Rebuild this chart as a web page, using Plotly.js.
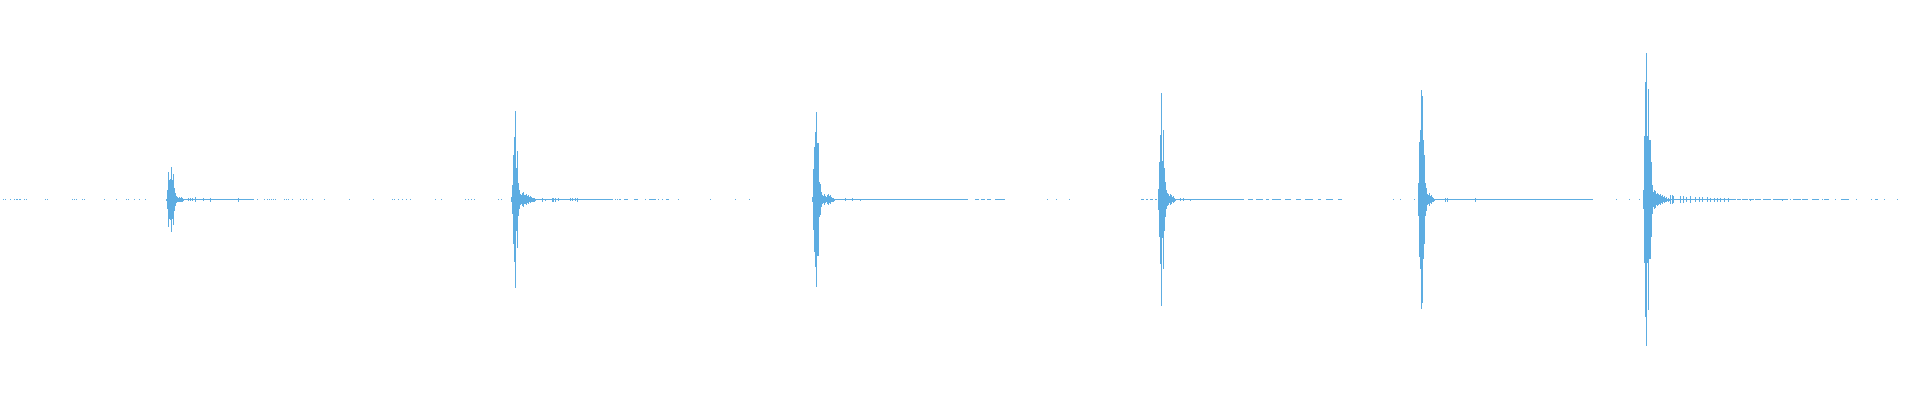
<!DOCTYPE html>
<html>
<head>
<meta charset="utf-8">
<script src="https://cdn.plot.ly/plotly-3.0.1.min.js"></script>
<style>
  html, body { margin: 0; padding: 0; background: #ffffff; }
  #chart { width: 1920px; height: 400px; }
</style>
</head>
<body>
<div id="chart"></div>
<script>
// ---- Data (peak amplitude per sample column, normalized full scale = 1) ----
const columnCount = 1920;
const noiseFloor = 0.0024;

// first column of each transient burst
const burstStart = [166, 511, 812, 1158, 1418, 1643];

// per-column peak amplitudes of each burst
const burst1 = [0.005, 0.05, 0.14, 0.10, 0.105, 0.165, 0.10, 0.13, 0.06, 0.035, 0.02, 0.015, 0.01, 0.015, 0.01, 0.015, 0.01, 0.005];
const burst2 = [0.015, 0.075, 0.225, 0.315, 0.445, 0.16, 0.245, 0.085, 0.05, 0.03, 0.025, 0.035, 0.04, 0.025, 0.025, 0.03, 0.02, 0.025, 0.015, 0.02, 0.015, 0.01, 0.01, 0.01, 0.005];
const burst3 = [0.015, 0.155, 0.265, 0.34, 0.44, 0.285, 0.285, 0.09, 0.08, 0.04, 0.025, 0.02, 0.03, 0.02, 0.015, 0.025, 0.03, 0.02, 0.025, 0.015, 0.01, 0.01, 0.005];
const burst4 = [0.055, 0.19, 0.325, 0.535, 0.195, 0.35, 0.16, 0.09, 0.05, 0.035, 0.03, 0.02, 0.03, 0.025, 0.015, 0.02, 0.01, 0.005];
const burst5 = [0.085, 0.29, 0.35, 0.55, 0.52, 0.30, 0.225, 0.085, 0.06, 0.03, 0.025, 0.035, 0.02, 0.025, 0.015, 0.01, 0.005];
const burst6 = [0.05, 0.32, 0.59, 0.735, 0.32, 0.555, 0.30, 0.30, 0.19, 0.075, 0.04, 0.05, 0.045, 0.03, 0.035, 0.03, 0.025, 0.03, 0.02, 0.025, 0.015, 0.02, 0.01, 0.015, 0.005, 0.01, 0.005];

// small decaying ripples in the tails
const rippleCols = [188, 190, 192, 195, 203, 210, 238,
  542, 545, 552, 553, 555, 558, 570, 572, 575, 577,
  845, 852, 860,
  1180, 1183, 1190,
  1445, 1447, 1475,
  1670, 1672, 1673, 1680, 1683, 1686, 1690, 1695, 1699, 1702, 1707, 1710, 1714, 1717, 1720, 1724, 1728, 1750, 1782];
const rippleAmps = [0.0075, 0.0075, 0.0075, 0.0125, 0.0075, 0.01, 0.01,
  0.01, 0.005, 0.01, 0.01, 0.01, 0.0075, 0.0075, 0.0075, 0.0075, 0.01,
  0.0075, 0.0075, 0.005,
  0.0075, 0.0075, 0.005,
  0.01, 0.01, 0.01,
  0.025, 0.025, 0.02, 0.02, 0.02, 0.015, 0.02, 0.015, 0.015, 0.015, 0.015, 0.01, 0.01, 0.01, 0.01, 0.01, 0.01, 0.005, 0.005];

// runs [start, end] of columns sitting at the noise floor
const floorRuns = [
  [184, 253],
  [536, 612], [615, 615], [617, 617], [619, 620], [624, 627], [634, 637], [649, 655], [666, 668],
  [835, 967], [975, 978], [981, 984], [987, 990], [995, 1004],
  [1141, 1143], [1146, 1147], [1150, 1152], [1155, 1156],
  [1176, 1243], [1248, 1252], [1256, 1262], [1266, 1268], [1272, 1280], [1285, 1290], [1296, 1300], [1305, 1312], [1318, 1320], [1326, 1332], [1338, 1341],
  [1435, 1592],
  [1668, 1735], [1737, 1740], [1742, 1747], [1749, 1753], [1755, 1760], [1763, 1767], [1768, 1770], [1773, 1777], [1778, 1787], [1793, 1800], [1802, 1807], [1812, 1818], [1824, 1828], [1841, 1848], [1875, 1877]
];

// isolated noise-floor samples
const floorDots = [3, 5, 10, 14, 16, 17, 19, 20, 24, 26, 45, 47, 72, 74, 76, 82, 84, 104, 116, 126, 128, 134, 139, 145,
  257, 264, 267, 269, 271, 273, 275, 284, 286, 288, 292, 300, 303, 306, 312, 324, 349, 373, 392, 394, 398, 402, 406, 410, 435, 441, 465, 468, 471, 474, 498, 501,
  645, 658, 662, 678, 710, 735, 749,
  1047, 1056, 1069,
  1393, 1400, 1414,
  1616, 1629, 1639,
  1790, 1822, 1835, 1856, 1871, 1884, 1897];

// ---- Build per-column envelope ----
const amp = new Array(columnCount).fill(0);
floorRuns.forEach(([a, b]) => { for (let c = a; c <= b; c++) amp[c] = noiseFloor; });
floorDots.forEach(c => { amp[c] = noiseFloor; });
rippleCols.forEach((c, i) => { amp[c] = Math.max(amp[c], rippleAmps[i]); });
[burst1, burst2, burst3, burst4, burst5, burst6].forEach((b, k) => {
  b.forEach((v, i) => { amp[burstStart[k] + i] = v; });
});

const xs = [], bases = [], spans = [];
amp.forEach((v, c) => {
  if (v > 0) { xs.push(c); bases.push(-v); spans.push(2 * v); }
});

const trace = {
  type: 'bar',
  x: xs,
  y: spans,
  base: bases,
  width: 0.98,
  marker: { color: '#5dade2', line: { width: 0 } },
  hoverinfo: 'skip'
};

const layout = {
  width: 1920,
  height: 400,
  margin: { l: 0, r: 0, t: 0, b: 1, pad: 0 },
  paper_bgcolor: '#ffffff',
  plot_bgcolor: '#ffffff',
  bargap: 0,
  showlegend: false,
  xaxis: { range: [-0.5, columnCount - 0.5], visible: false, fixedrange: true },
  yaxis: { range: [-1, 1], visible: false, fixedrange: true }
};

Plotly.newPlot('chart', [trace], layout, { displayModeBar: false, staticPlot: true });
</script>
</body>
</html>
